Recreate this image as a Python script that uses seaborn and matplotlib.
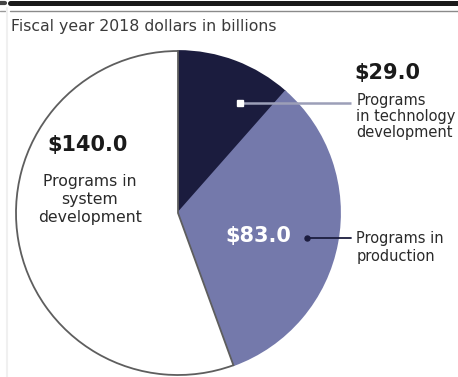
import numpy as np
import matplotlib
matplotlib.use("Agg")
import matplotlib.pyplot as plt
from matplotlib.lines import Line2D
import seaborn as sns

# Program funding, fiscal year 2018 dollars in billions
categories = ["Programs\nin technology\ndevelopment", "Programs in\nproduction", "Programs in\nsystem\ndevelopment"]
values = [29.0, 83.0, 140.0]
value_labels = ["$29.0", "$83.0", "$140.0"]
title = "Fiscal year 2018 dollars in billions"

sns.set_theme(style="white")
plt.rcParams["font.family"] = ["DejaVu Sans"]

colors = ["#1b1c3e", "#7479ab", "#ffffff"]
text_color = "#2a2a2a"

W, H = 458, 377
fig = plt.figure(figsize=(W / 100, H / 100), dpi=100)
fig.patch.set_facecolor("white")

# header rules
fig.add_artist(Line2D([10 / W, 1], [1 - 2.5 / H, 1 - 2.5 / H], color="#1a1a1a", lw=3.6))
fig.add_artist(Line2D([10 / W, 1], [1 - 10.5 / H, 1 - 10.5 / H], color="#8a8a8a", lw=1.0))
fig.add_artist(Line2D([0, 5 / W], [1 - 2.5 / H, 1 - 2.5 / H], color="#444444", lw=3.0))
fig.add_artist(Line2D([0, 5 / W], [1 - 10.5 / H, 1 - 10.5 / H], color="#9a9a9a", lw=1.0))
fig.add_artist(Line2D([7 / W, 7 / W], [0, 1 - 8 / H], color="#f0f0f0", lw=1.5))
fig.text(11 / W, 1 - 27 / H, title, fontsize=11.3, color="#3a3a3a", va="center", ha="left")

# pie axes: square box in pixels
cx, cy, R = 178, 213, 162
ax = fig.add_axes([(cx - R) / W, (H - cy - R) / H, 2 * R / W, 2 * R / H])
wedges, _ = ax.pie(values, colors=colors, startangle=90, counterclock=False,
                   radius=1.0, wedgeprops=dict(linewidth=1.3))
for w, c in zip(wedges, colors):
    w.set_edgecolor(c)
wedges[2].set_edgecolor("#5e5e5e")
ax.set_xlim(-1, 1)
ax.set_ylim(-1, 1)
ax.set_aspect("equal")
ax.axis("off")

def polar(angle_deg, r):
    a = np.deg2rad(angle_deg)
    return r * np.cos(a), r * np.sin(a)

tx = 1.1     # left edge of the side labels
lead_end = 1.07
side_fs = 10.5

# technology development
dx, dy = polar(60.6, 0.78)
ax.plot([dx, lead_end], [dy, dy], color="#9c9fb8", lw=1.8, solid_capstyle="butt", clip_on=False)
ax.plot([dx], [dy], "s", ms=3.8, color="white", clip_on=False)
ax.text(tx - 0.01, 0.864, value_labels[0], fontsize=15, fontweight="bold", color="#1a1a1a",
        ha="left", va="center")
ax.text(tx, 0.593, categories[0], fontsize=side_fs, color=text_color, ha="left", va="center",
        linespacing=1.08)

# production
px, py = polar(-10.95, 0.81)
ax.plot([px, lead_end], [py, py], color="#1b1c3e", lw=1.3, clip_on=False)
ax.plot([px], [py], "o", ms=3.6, color="#1b1c3e", clip_on=False)
ax.text(0.494, -0.142, value_labels[1], fontsize=15, fontweight="bold", color="white",
        ha="center", va="center")
ax.text(tx, -0.21, categories[1], fontsize=side_fs, color=text_color, ha="left", va="center",
        linespacing=1.25)

# system development
ax.text(-0.556, 0.42, value_labels[2], fontsize=15, fontweight="bold", color="#1a1a1a",
        ha="center", va="center")
ax.text(-0.543, 0.086, categories[2], fontsize=11.3, color=text_color, ha="center", va="center",
        linespacing=1.25)

fig.savefig("out.png", dpi=100)
